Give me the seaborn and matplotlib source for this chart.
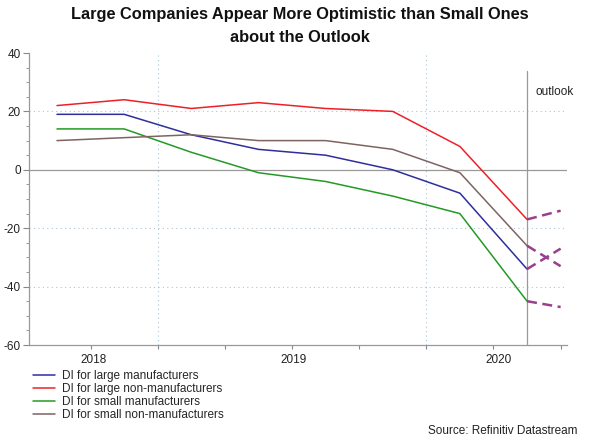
import numpy as np
import pandas as pd
import matplotlib
matplotlib.use("Agg")
import matplotlib.pyplot as plt
from matplotlib.ticker import MultipleLocator, FixedLocator
from matplotlib.lines import Line2D
import seaborn as sns

# ==========================================
# Data (Tankan diffusion indices, quarterly)
# ==========================================
QUARTERS = ["Sep 2018", "Dec 2018", "Mar 2019", "Jun 2019",
            "Sep 2019", "Dec 2019", "Mar 2020", "Jun 2020"]
SERIES = ["DI for large manufacturers", "DI for large non-manufacturers",
          "DI for small manufacturers", "DI for small non-manufacturers"]

large_mfg = [19, 19, 12, 7, 5, 0, -8, -34]
large_nonmfg = [22, 24, 21, 23, 21, 20, 8, -17]
small_mfg = [14, 14, 6, -1, -4, -9, -15, -45]
small_nonmfg = [10, 11, 12, 10, 10, 7, -1, -26]

# outlook for the next quarter (Sep 2020)
outlook = [-27, -14, -47, -33]

YEAR_LABELS = ["2018", "2019", "2020"]

COLORS = ["#2e2e9e", "#ee2027", "#239a25", "#7d6462"]
OUTLOOK_COLOR = "#9a3f8c"

# ==========================================
# Build long table
# ==========================================
x = np.arange(len(QUARTERS))
df = pd.DataFrame({
    "x": np.tile(x, len(SERIES)),
    "series": np.repeat(SERIES, len(QUARTERS)),
    "value": large_mfg + large_nonmfg + small_mfg + small_nonmfg,
})

sns.set_style("white")
plt.rcParams["font.family"] = ["Liberation Sans", "DejaVu Sans"]
plt.rcParams["axes.unicode_minus"] = False

fig = plt.figure(figsize=(6, 4.43), dpi=100)
ax = fig.add_axes([29 / 600, 1 - 345 / 443, (567 - 29) / 600, (345 - 53) / 443])

# grid and reference lines
for gy in [20, -20, -40]:
    ax.axhline(gy, color="#a9c6d8", lw=0.8, ls=(0, (1, 3)), zorder=0)
for gx in [1.5, 5.5]:
    ax.axvline(gx, color="#a9c6d8", lw=0.8, ls=(0, (1, 3)), zorder=0)
ax.axhline(0, color="#999999", lw=0.9, zorder=1)
ax.plot([x[-1], x[-1]], [-60, 34], color="#999999", lw=0.9, zorder=1)
ax.text(x[-1] + 0.12, 26.7, "outlook", fontsize=8.5, color="#222222",
        ha="left", va="center")

sns.lineplot(data=df, x="x", y="value", hue="series", hue_order=SERIES,
             palette=COLORS, lw=1.1, legend=False, ax=ax, zorder=3)

# dashed outlook segments
OUTLOOK_X = x[-1] + 0.5
last = [large_mfg[-1], large_nonmfg[-1], small_mfg[-1], small_nonmfg[-1]]
for y0, y1 in zip(last, outlook):
    ax.plot([x[-1], OUTLOOK_X], [y0, y1], color=OUTLOOK_COLOR, lw=1.8,
            ls=(0, (4, 2.2)), zorder=4)

ax.set_xlim(-0.417, 7.595)
ax.set_ylim(-60, 40)
ax.set_xlabel("")
ax.set_ylabel("")

ax.yaxis.set_major_locator(MultipleLocator(20))
ax.yaxis.set_minor_locator(MultipleLocator(5))
ax.tick_params(axis="y", which="major", length=4, width=0.8, color="#888888",
               labelsize=8.5, pad=2, labelcolor="#222222", left=True)
ax.tick_params(axis="y", which="minor", length=2, width=0.6, color="#888888", left=True)

ax.xaxis.set_major_locator(FixedLocator(np.arange(0.5, 8, 1)))
ax.set_xticklabels([""] * 8)
ax.tick_params(axis="x", which="major", length=3, width=0.8, color="#888888", bottom=True)
for lbl, pos in zip(YEAR_LABELS, [0.55, 3.52, 6.57]):
    ax.text(pos, -63, lbl, fontsize=8.5, color="#222222", ha="center", va="top")

for side in ["top", "right"]:
    ax.spines[side].set_visible(False)
for side in ["left", "bottom"]:
    ax.spines[side].set_color("#999999")
    ax.spines[side].set_linewidth(0.9)

# title
fig.text(0.5, 1 - 14 / 443, "Large Companies Appear More Optimistic than Small Ones",
         ha="center", va="center", fontsize=11.8, fontweight="bold", color="#111111")
fig.text(0.5, 1 - 37 / 443, "about the Outlook",
         ha="center", va="center", fontsize=11.8, fontweight="bold", color="#111111")

# legend
handles = [Line2D([0], [0], color=c, lw=1.1) for c in COLORS]
fig.legend(handles, SERIES, loc="upper left", bbox_to_anchor=(33 / 600, 1 - 370 / 443),
           frameon=False, fontsize=8.5, handlelength=1.9, handletextpad=0.55,
           labelspacing=0.08, borderaxespad=0, borderpad=0)

fig.text(577 / 600, 1 - 431 / 443, "Source: Refinitiv Datastream", ha="right",
         va="center", fontsize=8.5, color="#222222")

fig.savefig("out.png", dpi=100)
